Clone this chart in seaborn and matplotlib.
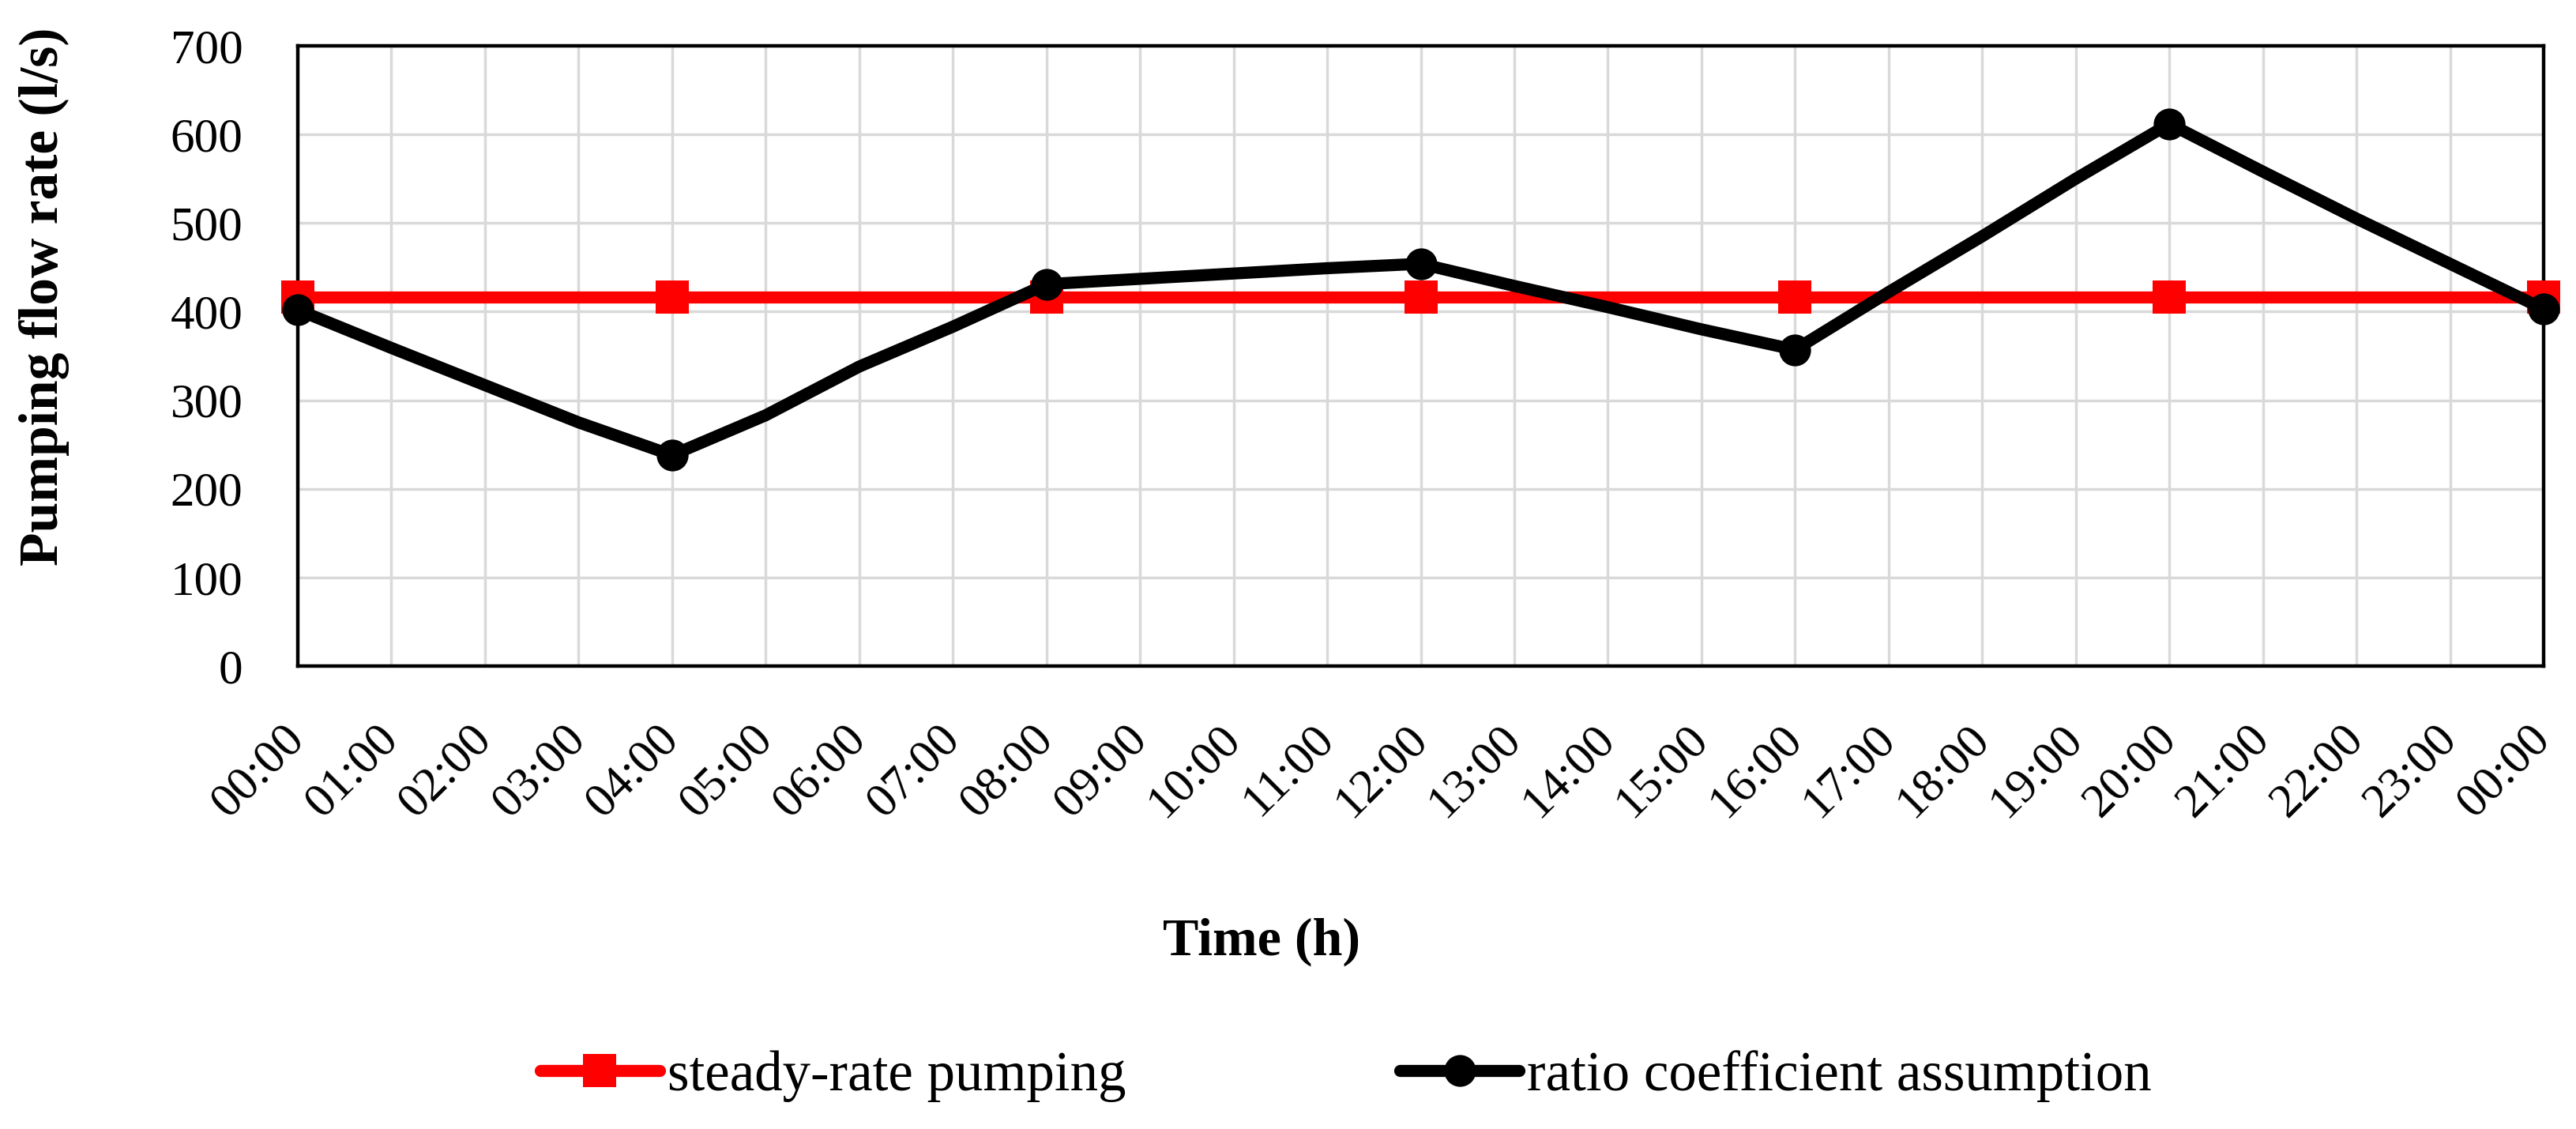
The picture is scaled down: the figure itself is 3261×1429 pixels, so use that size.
import matplotlib
matplotlib.use("Agg")
import matplotlib.pyplot as plt
import seaborn as sns

# ---- data ----
hours = list(range(25))
hour_labels = [f"{h:02d}:00" for h in range(24)] + ["00:00"]
steady_hours = [0, 4, 8, 12, 16, 20, 24]
steady_rate = [416, 416, 416, 416, 416, 416, 416]
ratio_coef = [402, 359, 317, 275, 238, 283, 338, 383, 431, 437, 443, 449, 454,
              429, 405, 380, 357, 422, 485, 550, 612, 558, 505, 454, 403]
y_ticks = [0, 100, 200, 300, 400, 500, 600, 700]

sns.set_style("white")
plt.rcParams["font.family"] = ["Liberation Serif", "DejaVu Serif"]
for k in ["text.color", "axes.labelcolor", "xtick.color", "ytick.color"]:
    plt.rcParams[k] = "black"

W, H = 3262, 1429
fig = plt.figure(figsize=(W / 100, H / 100), dpi=100)
L, R, T, B = 377, 3220, 58, 843
ax = fig.add_axes([L / W, 1 - B / H, (R - L) / W, (B - T) / H])

sns.lineplot(x=steady_hours, y=steady_rate, ax=ax, color="#FF0000", lw=11,
             marker="s", markersize=30, markeredgewidth=0, clip_on=False,
             label="steady-rate pumping", zorder=3)
sns.lineplot(x=hours, y=ratio_coef, ax=ax, color="black", lw=11,
             marker="o", markersize=29, markevery=4, markeredgewidth=0,
             clip_on=False, label="ratio coefficient assumption", zorder=4)

ax.set_xlim(0, 24)
ax.set_ylim(0, 700)
ax.set_xticks(hours)
ax.set_xticklabels(hour_labels, rotation=45, ha="right", va="center",
                   rotation_mode="anchor")
ax.set_yticks(y_ticks)
ax.set_yticklabels([str(v) for v in y_ticks])
ax.tick_params(axis="x", length=0, pad=60, labelsize=44, colors="black")
ax.tick_params(axis="y", length=0, pad=50, labelsize=44, colors="black")

ax.grid(True, color="#d9d9d9", lw=2.5)
ax.set_axisbelow(True)
for s in ax.spines.values():
    s.set_visible(True)
    s.set_color("black")
    s.set_linewidth(3.2)

ax.set_ylabel("Pumping flow rate (l/s)", fontsize=50, fontweight="bold",
              color="black")
ax.yaxis.set_label_coords((56 - L) / (R - L), (B - 375) / (B - T))
ax.yaxis.label.set_va("center")
ax.set_xlabel("Time (h)", fontsize=49, fontweight="bold", color="black")
ax.xaxis.set_label_coords((1597 - L) / (R - L), (B - 1192) / (B - T))
ax.xaxis.label.set_va("center")

ax.legend(loc="center", bbox_to_anchor=(1704 / W, 1 - 1362 / H),
          bbox_transform=fig.transFigure, ncol=2, frameon=False,
          fontsize=51, handlelength=2.13, handletextpad=0.14,
          columnspacing=4.9, borderaxespad=0, labelcolor="black")

fig.savefig("out.png", dpi=100)
